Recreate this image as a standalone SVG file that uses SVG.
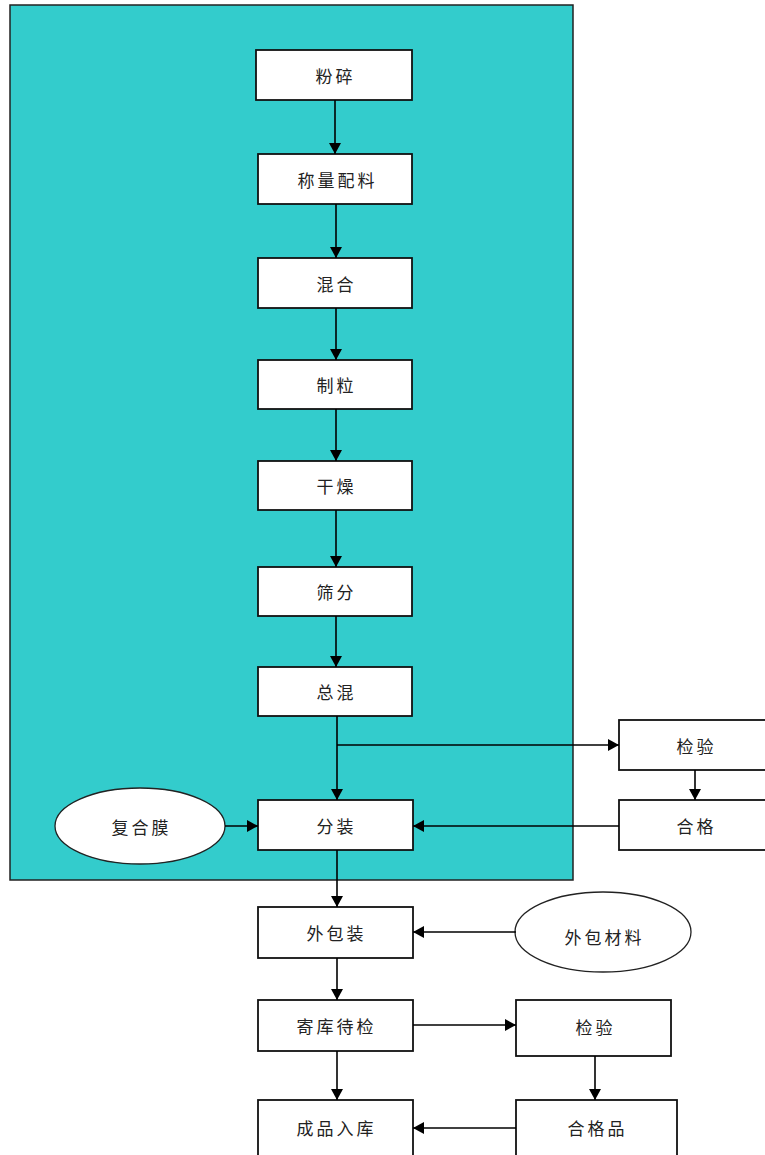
<svg xmlns="http://www.w3.org/2000/svg" width="765" height="1155" viewBox="0 0 765 1155">
<style>
.box{fill:#fff;stroke:#111;stroke-width:1.8}
.ell{fill:#fff;stroke:#222;stroke-width:1.3}
.t{font-family:"Noto Sans CJK SC","Noto Sans",sans-serif;font-size:17px;letter-spacing:3px;fill:#222;text-anchor:middle;dominant-baseline:central}
.c{stroke:#000;stroke-width:1.6;fill:none;marker-end:url(#ah)}
</style>
<defs>
<marker id="ah" markerUnits="userSpaceOnUse" markerWidth="12" markerHeight="13" refX="11" refY="6.5" orient="auto">
<path d="M0,0.5 L11,6.5 L0,12.5 Z" fill="#000"/>
</marker>
</defs>
<rect id="frame" x="10" y="5" width="563" height="875" fill="#33CCCC" stroke="#222" stroke-width="1.5"/>
<g id="n1"><rect class="box" x="256" y="50" width="156" height="50"/><text class="t" x="335.5" y="75">粉碎</text></g>
<g id="n2"><rect class="box" x="258" y="154" width="154" height="50"/><text class="t" x="337.5" y="179">称量配料</text></g>
<g id="n3"><rect class="box" x="258" y="258" width="154" height="50"/><text class="t" x="336.5" y="283">混合</text></g>
<g id="n4"><rect class="box" x="258" y="360" width="154" height="49"/><text class="t" x="336.5" y="384">制粒</text></g>
<g id="n5"><rect class="box" x="258" y="461" width="154" height="49"/><text class="t" x="336.5" y="485">干燥</text></g>
<g id="n6"><rect class="box" x="258" y="567" width="154" height="49"/><text class="t" x="336.5" y="591">筛分</text></g>
<g id="n7"><rect class="box" x="258" y="667" width="154" height="49"/><text class="t" x="336.5" y="691">总混</text></g>
<g id="n8"><rect class="box" x="258" y="800" width="155" height="50"/><text class="t" x="336.5" y="825">分装</text></g>
<g id="n9"><ellipse class="ell" cx="140" cy="826" rx="85" ry="38"/><text class="t" x="141.5" y="826">复合膜</text></g>
<g id="n10"><rect class="box" x="619" y="720" width="150" height="50"/><text class="t" x="696.5" y="745">检验</text></g>
<g id="n11"><rect class="box" x="619" y="800" width="150" height="50"/><text class="t" x="696.5" y="825">合格</text></g>
<g id="n12"><rect class="box" x="258" y="907" width="155" height="51"/><text class="t" x="336.5" y="932">外包装</text></g>
<g id="n13"><ellipse class="ell" cx="603" cy="932" rx="88" ry="40"/><text class="t" x="604.5" y="936">外包材料</text></g>
<g id="n14"><rect class="box" x="258" y="1000" width="155" height="51"/><text class="t" x="336.5" y="1025">寄库待检</text></g>
<g id="n15"><rect class="box" x="516" y="1000" width="155" height="56"/><text class="t" x="595.5" y="1026">检验</text></g>
<g id="n16"><rect class="box" x="258" y="1100" width="155" height="70"/><text class="t" x="336.5" y="1127">成品入库</text></g>
<g id="n17"><rect class="box" x="516" y="1100" width="161" height="70"/><text class="t" x="597.5" y="1127">合格品</text></g>
<g id="connectors">
<line class="c" x1="335" y1="100" x2="335" y2="154"/>
<line class="c" x1="336" y1="204" x2="336" y2="258"/>
<line class="c" x1="336" y1="308" x2="336" y2="360"/>
<line class="c" x1="336" y1="409" x2="336" y2="461"/>
<line class="c" x1="336" y1="510" x2="336" y2="567"/>
<line class="c" x1="336" y1="616" x2="336" y2="667"/>
<line class="c" x1="337" y1="716" x2="337" y2="800"/>
<line class="c" x1="337" y1="745" x2="619" y2="745"/>
<line class="c" x1="695" y1="770" x2="695" y2="800"/>
<line class="c" x1="619" y1="826" x2="413" y2="826"/>
<line class="c" x1="225" y1="826" x2="258" y2="826"/>
<line class="c" x1="337" y1="850" x2="337" y2="907"/>
<line class="c" x1="516" y1="932" x2="413" y2="932"/>
<line class="c" x1="337" y1="958" x2="337" y2="1000"/>
<line class="c" x1="413" y1="1025" x2="516" y2="1025"/>
<line class="c" x1="595" y1="1056" x2="595" y2="1100"/>
<line class="c" x1="337" y1="1051" x2="337" y2="1100"/>
<line class="c" x1="516" y1="1128" x2="413" y2="1128"/>
</g>
</svg>
